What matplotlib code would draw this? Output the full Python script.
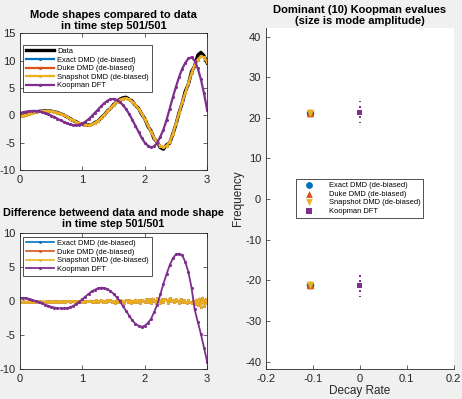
import numpy as np
import matplotlib.pyplot as plt

plt.rcParams['font.family'] = ['Liberation Sans', 'DejaVu Sans']
plt.rcParams['axes.unicode_minus'] = False

# colours (matlab default order)
c_blue = '#0072BD'
c_orange = '#D95319'
c_yellow = '#EDB120'
c_purple = '#7E2F8E'

# space grid of the read-off points
x_coarse = np.arange(61) * 0.05
x_fine = np.arange(121) * 0.025

# mode shapes at time step 501/501 (top panel)
data_shape = [-0.15, -0.05, 0.12, 0.28, 0.47, 0.58, 0.72, 0.76, 0.82, 0.78,
              0.77, 0.62, 0.52, 0.27, 0.08, -0.28, -0.57, -0.95, -1.17, -1.5,
              -1.62, -1.83, -1.76, -1.7, -1.35, -1.05, -0.45, 0.05, 0.78, 1.25,
              1.98, 2.4, 2.95, 3.2, 3.3, 2.95, 2.6, 1.8, 1.3, 0.2,
              -0.6, -2.0, -2.85, -4.3, -4.85, -5.9, -6.2, -5.4, -5.1, -3.4,
              -1.7, 0.5, 2.2, 4.4, 5.7, 8.0, 9.0, 11.0, 11.5, 10.9, 9.6]
dmd_shape = [-0.2, -0.05, 0.1, 0.3, 0.45, 0.6, 0.7, 0.78, 0.8, 0.8,
             0.75, 0.65, 0.5, 0.3, 0.05, -0.25, -0.6, -0.9, -1.2, -1.45,
             -1.65, -1.78, -1.8, -1.65, -1.4, -1.0, -0.5, 0.1, 0.7, 1.3,
             1.9, 2.45, 2.85, 3.05, 3.1, 2.9, 2.5, 1.9, 1.2, 0.3,
             -0.7, -1.85, -3.0, -4.1, -5.0, -5.6, -5.85, -5.55, -4.9, -3.4,
             -1.5, 0.4, 2.4, 4.1, 5.9, 7.7, 9.2, 10.2, 10.8, 10.6, 9.8]
koopman_shape = [0.4, 0.55, 0.68, 0.77, 0.8, 0.8, 0.73, 0.6, 0.42, 0.2,
                 -0.05, -0.33, -0.62, -0.92, -1.2, -1.45, -1.65, -1.77, -1.8, -1.7,
                 -1.5, -1.15, -0.7, -0.15, 0.45, 1.05, 1.65, 2.2, 2.65, 2.95,
                 3.0, 2.85, 2.45, 1.9, 1.15, 0.25, -0.8, -1.9, -3.0, -4.1,
                 -5.0, -5.55, -5.85, -5.7, -5.0, -3.9, -2.6, -0.8, 1.2, 3.3,
                 5.2, 7.0, 8.5, 9.6, 10.4, 10.6, 10.0, 8.6, 6.6, 4.0, 1.0]

# difference between data and mode shape (bottom panel)
dmd_diff = [-0.05, -0.08, -0.03, -0.06, -0.1, -0.04, -0.07, -0.02, -0.09, -0.05,
            -0.03, -0.08, -0.06, -0.01, -0.07, -0.04, -0.09, -0.03, -0.06, -0.02,
            -0.08, -0.04, 0.0, -0.06, -0.03, -0.09, -0.02, -0.05, 0.02, -0.07,
            -0.03, 0.03, -0.08, -0.01, 0.05, -0.06, -0.02, 0.04, -0.1, 0.02,
            -0.05, 0.08, -0.09, 0.03, -0.02, 0.1, -0.12, 0.05, -0.04, 0.12,
            -0.08, 0.02, 0.15, -0.1, 0.06, -0.14, 0.12, -0.03, 0.18, -0.12,
            0.05, -0.2, 0.15, -0.08, 0.22, -0.15, 0.1, -0.25, 0.18, -0.05,
            0.2, -0.18, 0.08, -0.12, 0.25, -0.1, 0.15, -0.2, 0.12, 0.02,
            -0.15, 0.28, -0.05, 0.35, -0.2, 0.4, 0.05, -0.25, 0.45, 0.1,
            -0.3, 0.38, -0.1, 0.3, 0.15, -0.2, 0.42, 0.0, 0.25, -0.15,
            0.35, 0.05, -0.2, 0.3, -0.05, 0.15, -0.1, -0.25, 0.2, -0.15,
            -0.3, 0.1, -0.45, 0.25, -0.6, 0.4, -0.85, 0.55, -0.7, 0.3,
            -0.2]
koopman_diff = [0.5, 0.5, 0.45, 0.35, 0.2, 0.05, -0.1, -0.3, -0.5, -0.65,
                -0.8, -0.92, -1.0, -1.05, -1.05, -1.0, -0.9, -0.7, -0.4, -0.05,
                0.3, 0.7, 1.1, 1.45, 1.7, 1.9, 2.0, 1.95, 1.8, 1.5,
                1.1, 0.6, 0.0, -0.7, -1.4, -2.1, -2.8, -3.3, -3.6, -3.75,
                -3.6, -3.2, -2.6, -1.6, -0.5, 1.0, 2.6, 4.0, 5.3, 6.3,
                6.9, 7.0, 6.8, 5.8, 4.3, 2.0, -1.2, -3.0, -4.8, -6.8, -8.9]

# dominant eigenvalues: decay rate / frequency
exact_rate = [-0.107, -0.107]
exact_freq = [21.1, -21.1]
duke_rate = [-0.107, -0.107]
duke_freq = [21.1, -21.1]
snap_rate = [-0.107, -0.107]
snap_freq = [21.1, -21.1]
koopman_rate = [0, 0, 0, 0, 0, 0, 0, 0, 0, 0]
koopman_freq = [24.0, 22.6, 21.3, 20.1, 18.9, -18.9, -20.1, -21.3, -22.6, -24.0]
koopman_amp = [0.9, 2.0, 14, 2.0, 0.9, 0.9, 2.0, 14, 2.0, 0.9]

dmd_names = ['Exact DMD (de-biased)', 'Duke DMD (de-biased)', 'Snapshot DMD (de-biased)']


def style_axes(ax, box=True):
    ax.tick_params(direction='in', length=3, width=0.5, labelsize=8,
                   colors='#262626', top=box, right=box, labeltop=False, labelright=False)
    for s in ax.spines.values():
        s.set_linewidth(0.6)
        s.set_color('#262626')
    if not box:
        ax.spines['top'].set_visible(False)
        ax.spines['right'].set_visible(False)


fig = plt.figure(figsize=(4.62, 3.99), dpi=100, facecolor='#F0F0F0')

# top-left: mode shapes
ax1 = fig.add_axes([0.0433, 0.574, 0.405, 0.3425])
ax1.plot(x_coarse, data_shape, color='black', lw=2.4, label='Data')
for c, name in zip([c_blue, c_orange, c_yellow], dmd_names):
    ax1.plot(x_coarse, dmd_shape, '.-', color=c, lw=1.6, ms=2.5, label=name)
ax1.plot(x_coarse, koopman_shape, '.-', color=c_purple, lw=1.6, ms=2.5, label='Koopman DFT')
ax1.set_xlim(0, 3)
ax1.set_ylim(-10, 15)
ax1.set_xticks([0, 1, 2, 3])
ax1.set_yticks([-10, -5, 0, 5, 10, 15])
style_axes(ax1)
ax1.set_title('Mode shapes compared to data\nin time step 501/501',
              fontsize=8, fontweight='bold', pad=3, linespacing=1.15)
leg1 = ax1.legend(loc='upper left', bbox_to_anchor=(0.018, 0.914), fontsize=5.4,
                  frameon=True, fancybox=False, edgecolor='black', handlelength=3.8,
                  handletextpad=0.4, borderpad=0.35, labelspacing=0.18,
                  borderaxespad=0.0)
leg1.get_frame().set_linewidth(0.6)

# bottom-left: differences
ax2 = fig.add_axes([0.0433, 0.0744, 0.405, 0.341])
for c, name in zip([c_blue, c_orange, c_yellow], dmd_names):
    ax2.plot(x_fine, dmd_diff, '.-', color=c, lw=1.2, ms=2.0, label=name)
ax2.plot(x_coarse, koopman_diff, '.-', color=c_purple, lw=1.3, ms=2.5, label='Koopman DFT')
ax2.set_xlim(0, 3)
ax2.set_ylim(-10, 10)
ax2.set_xticks([0, 1, 2, 3])
ax2.set_yticks([-10, -5, 0, 5, 10])
style_axes(ax2)
ax2.set_title('Difference betweend data and mode shape\nin time step 501/501',
              fontsize=7.8, fontweight='bold', pad=4.5, linespacing=1.15)
leg2 = ax2.legend(loc='upper left', bbox_to_anchor=(0.018, 0.971), fontsize=5.4,
                  frameon=True, fancybox=False, edgecolor='black', handlelength=3.8,
                  handletextpad=0.4, borderpad=0.35, labelspacing=0.18,
                  borderaxespad=0.0)
leg2.get_frame().set_linewidth(0.6)

# right: eigenvalues
ax3 = fig.add_axes([0.5758, 0.0752, 0.4062, 0.8546])
ax3.scatter(exact_rate, exact_freq, s=30, marker='o', color=c_blue, linewidths=0,
            label=dmd_names[0])
ax3.scatter(duke_rate, duke_freq, s=30, marker='^', color=c_orange, linewidths=0,
            label=dmd_names[1])
ax3.scatter(snap_rate, snap_freq, s=30, marker='v', color=c_yellow, linewidths=0,
            label=dmd_names[2])
ax3.scatter(koopman_rate, koopman_freq, s=koopman_amp, marker='s', color=c_purple,
            linewidths=0, label='Koopman DFT')
ax3.set_xlim(-0.2, 0.2)
ax3.set_ylim(-41.8, 42.1)
ax3.set_xticks([-0.2, -0.1, 0, 0.1, 0.2])
ax3.set_xticklabels(['-0.2', '-0.1', '0', '0.1', '0.2'])
ax3.set_yticks([-40, -30, -20, -10, 0, 10, 20, 30, 40])
style_axes(ax3, box=False)
ax3.set_xlabel('Decay Rate', fontsize=8.5, color='#262626', labelpad=1)
ax3.set_ylabel('Frequency', fontsize=8.5, color='#262626', labelpad=1)
ax3.set_title('Dominant (10) Koopman evalues\n(size is mode amplitude)',
              fontsize=8, fontweight='bold', pad=3, linespacing=1.15)
leg3 = ax3.legend(loc='center', fontsize=5.4, frameon=True, fancybox=False,
                  edgecolor='black', handletextpad=1.4, borderpad=0.35,
                  labelspacing=0.18, handlelength=2.6)
leg3.get_frame().set_linewidth(0.6)
for h in leg3.legend_handles:
    h.set_sizes([24])

fig.savefig('out.png', dpi=100, facecolor=fig.get_facecolor())
